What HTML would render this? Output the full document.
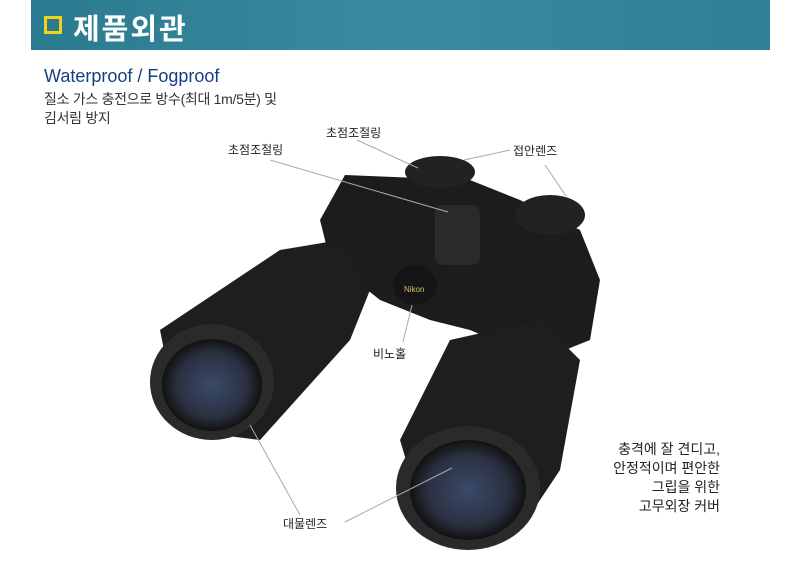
<!DOCTYPE html>
<html><head><meta charset="utf-8"><style>
body{margin:0;width:796px;height:569px;background:#fff;overflow:hidden;position:relative;font-family:"Liberation Sans","Noto Sans CJK KR",sans-serif}
.hdr{position:absolute;left:31px;top:0;width:739px;height:50px;background:linear-gradient(90deg,#2a7a90,#3a8aa0 50%,#2f7f95)}
.hdr .sq{position:absolute;left:13px;top:16px;width:12px;height:12px;border:3px solid #f3d21a}
.hdr .t{position:absolute;left:42px;top:6px;font-size:29px;font-weight:bold;color:#fff;letter-spacing:2px}
.t1{position:absolute;left:44px;top:66px;font-size:18px;color:#163f82}
.t2{position:absolute;left:44px;top:90px;font-size:14px;color:#333;line-height:19px;letter-spacing:-0.3px}
.l{position:absolute;font-size:12px;color:#222}
.r{position:absolute;left:560px;top:440px;width:160px;text-align:right;font-size:14px;color:#222;line-height:19px}
</style></head><body>
<div class="hdr"><div class="sq"></div><div class="t">제품외관</div></div>
<div class="t1">Waterproof / Fogproof</div>
<div class="t2">질소 가스 충전으로 방수(최대 1m/5분) 및<br>김서림 방지</div>
<svg width="796" height="569" style="position:absolute;left:0;top:0">
<defs><radialGradient id="g1" cx="0.5" cy="0.5" r="0.5"><stop offset="0" stop-color="#3a4a6a"/><stop offset="0.7" stop-color="#2a3040"/><stop offset="1" stop-color="#111"/></radialGradient></defs>
<path d="M345,175 L470,180 L520,200 L580,230 L600,280 L590,340 L540,360 L470,330 L430,320 L380,300 L330,260 L320,220 Z" fill="#1c1c1c"/>
<path d="M160,330 L280,250 L340,240 L370,290 L350,340 L260,440 L180,430 Z" fill="#1e1e1e"/>
<ellipse cx="212" cy="382" rx="62" ry="58" fill="#2a2a2a"/>
<ellipse cx="212" cy="385" rx="50" ry="46" fill="url(#g1)"/>
<path d="M400,440 L450,340 L540,320 L580,360 L560,470 L520,530 L430,540 Z" fill="#1e1e1e"/>
<ellipse cx="468" cy="488" rx="72" ry="62" fill="#2a2a2a"/>
<ellipse cx="468" cy="490" rx="58" ry="50" fill="url(#g1)"/>
<ellipse cx="440" cy="172" rx="35" ry="16" fill="#222"/>
<ellipse cx="550" cy="215" rx="35" ry="20" fill="#222"/>
<rect x="435" y="205" width="45" height="60" rx="8" fill="#2a2a2a"/>
<ellipse cx="415" cy="285" rx="22" ry="20" fill="#151515"/>
<text x="404" y="292" font-size="8" fill="#d8c070" font-family="Liberation Sans">Nikon</text>
<g stroke="#aaa" stroke-width="1" fill="none">
<line x1="270" y1="160" x2="448" y2="212"/>
<line x1="357" y1="140" x2="418" y2="168"/>
<line x1="510" y1="150" x2="464" y2="160"/>
<line x1="545" y1="165" x2="566" y2="196"/>
<line x1="403" y1="342" x2="412" y2="305"/>
<line x1="300" y1="515" x2="250" y2="425"/>
<line x1="345" y1="522" x2="452" y2="468"/>
</g>
</svg>
<div class="l" style="left:228px;top:141px">초점조절링</div>
<div class="l" style="left:326px;top:124px">초점조절링</div>
<div class="l" style="left:513px;top:142px">접안렌즈</div>
<div class="l" style="left:373px;top:345px">비노홀</div>
<div class="l" style="left:283px;top:515px">대물렌즈</div>
<div class="r">충격에 잘 견디고,<br>안정적이며 편안한<br>그립을 위한<br>고무외장 커버</div>
</body></html>
